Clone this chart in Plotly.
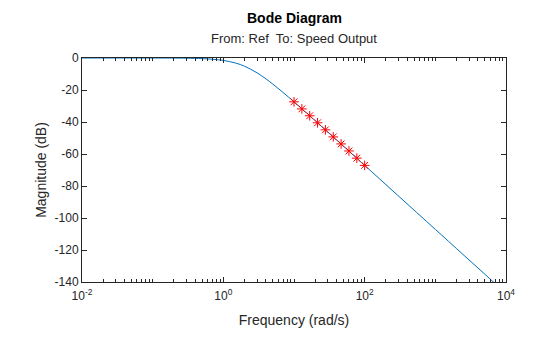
import plotly.graph_objects as go

# Bode magnitude curve
freq = [0.01, 0.1, 0.2, 0.3, 0.5, 0.7, 1.0, 1.5, 2.0, 3.0, 4.0, 5.0, 7.0,
        10.0, 15.0, 20.0, 30.0, 50.0, 100.0, 1000.0, 10000.0]
mag_db = [0.0, -0.02, -0.06, -0.14, -0.39, -0.76, -1.51, -3.18, -5.16, -9.27,
          -13.01, -16.26, -21.53, -27.42, -34.29, -39.23, -46.23, -55.08,
          -67.11, -107.11, -147.11]

# Red star markers
star_freq = [10.0, 12.92, 16.68, 21.54, 27.83, 35.94, 46.42, 59.95, 77.43, 100.0]
star_mag = [-27.4, -31.8, -36.1, -40.5, -44.9, -49.3, -53.7, -58.1, -62.6, -67.1]

xtick_vals = [0.01, 1, 100, 10000]
xtick_text = ["10<sup>-2</sup>", "10<sup>0</sup>", "10<sup>2</sup>", "10<sup>4</sup>"]
ytick_vals = [0, -20, -40, -60, -80, -100, -120, -140]
ytick_text = ["0", "-20", "-40", "-60", "-80", "-100", "-120", "-140"]

minor_vals = []
for dec in [0.01, 0.1, 1, 10, 100, 1000]:
    for m in range(2, 11):
        minor_vals.append(dec * m)

ax_col = "#262626"
font_family = "Liberation Sans, Arial, sans-serif"

fig = go.Figure()
fig.add_trace(go.Scatter(x=freq, y=mag_db, mode="lines",
                         line=dict(color="#0072BD", width=1), line_shape="spline",
                         showlegend=False, hoverinfo="skip"))
fig.add_trace(go.Scatter(x=star_freq, y=star_mag, mode="markers",
                         marker=dict(symbol="asterisk", size=8,
                                     line=dict(color="#FF0000", width=1)),
                         showlegend=False, hoverinfo="skip"))

fig.update_layout(
    width=560, height=337,
    margin=dict(l=82, r=54, t=58, b=55),
    paper_bgcolor="white", plot_bgcolor="white",
    font=dict(family=font_family, color=ax_col, size=12),
    annotations=[
        dict(text="<b>Bode Diagram</b>", x=0.5, y=1, xref="paper", yref="paper",
             yshift=40, showarrow=False, font=dict(size=14, color="#000000"),
             xanchor="center", yanchor="middle"),
        dict(text="From: Ref  To: Speed Output", x=0.5, y=1, xref="paper", yref="paper",
             yshift=20, showarrow=False, font=dict(size=13, color=ax_col),
             xanchor="center", yanchor="middle"),
    ],
)

fig.update_xaxes(
    type="log", range=[-2, 4],
    tickmode="array", tickvals=xtick_vals, ticktext=xtick_text,
    ticks="inside", ticklen=5, tickcolor=ax_col, tickfont=dict(size=12),
    ticklabelstandoff=3,
    showline=True, linecolor=ax_col, linewidth=1, mirror="allticks",
    showgrid=False, zeroline=False,
    minor=dict(tickmode="array", tickvals=minor_vals, ticks="inside", ticklen=3,
               tickcolor=ax_col, showgrid=False),
    title=dict(text="Frequency (rad/s)", font=dict(size=14, color=ax_col), standoff=12),
)
fig.update_yaxes(
    range=[-140, 0],
    tickmode="array", tickvals=ytick_vals, ticktext=ytick_text,
    ticks="inside", ticklen=5, tickcolor=ax_col, tickfont=dict(size=12),
    showline=True, linecolor=ax_col, linewidth=1, mirror="allticks",
    showgrid=False, zeroline=False,
    title=dict(text="Magnitude (dB)", font=dict(size=14, color=ax_col), standoff=4),
)

fig.write_html("out.html")
